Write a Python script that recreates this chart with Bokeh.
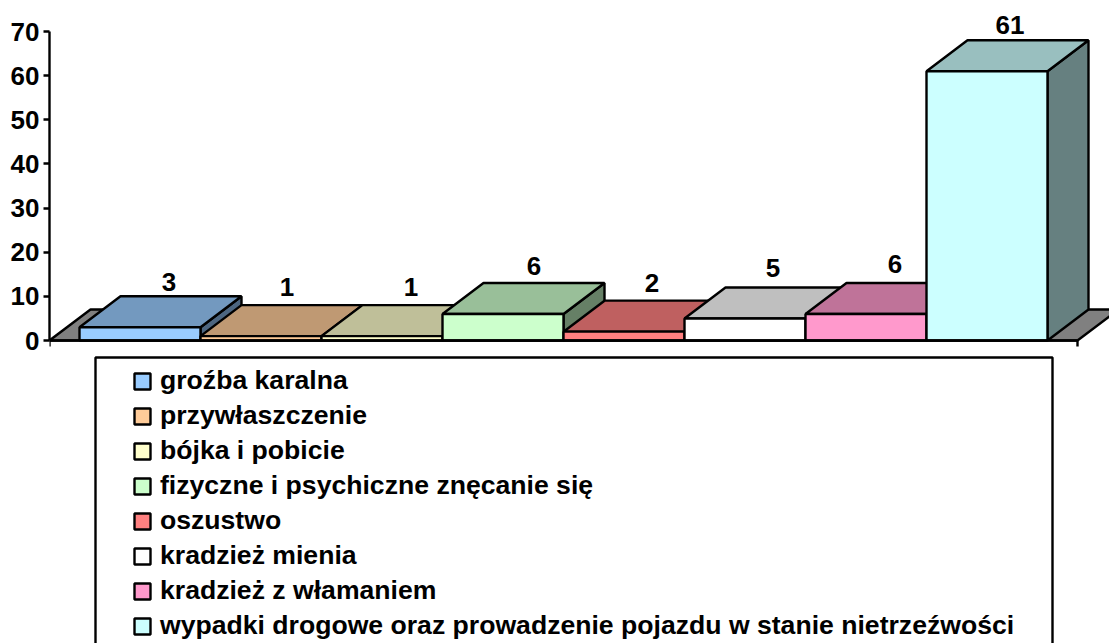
from bokeh.embed import file_html
from bokeh.resources import INLINE
from bokeh.plotting import figure
from bokeh.models import (Range1d, LinearAxis, FixedTicker, Legend, LegendItem, BoxAnnotation,
                          ColumnDataSource)
from bokeh.core.properties import value

categories = ["groźba karalna", "przywłaszczenie", "bójka i pobicie",
              "fizyczne i psychiczne znęcanie się", "oszustwo", "kradzież mienia",
              "kradzież z włamaniem",
              "wypadki drogowe oraz prowadzenie pojazdu w stanie nietrzeźwości"]
counts = [3, 1, 1, 6, 2, 5, 6, 61]
front_colors = ["#99CCFF", "#FFCC99", "#FFFFCC", "#CCFFCC", "#FF8080", "#FFFFFF", "#FF99CC", "#CCFFFF"]
top_colors = ["#7399BF", "#BF9973", "#BFBF99", "#99BF99", "#BF6060", "#BFBFBF", "#BF7399", "#99BFBF"]
side_colors = ["#4D6680", "#80664D", "#808066", "#668066", "#804040", "#808080", "#804D66", "#668080"]
y_ticks = [0, 10, 20, 30, 40, 50, 60, 70]

FONT = "Liberation Sans"
W, H = 1109, 643
LEFT = 49
PX_Y = 309 / 70          # pixels per count
PX_X = 121               # pixels per bar
Y0_PX = 340              # zero line, from the top of the figure
X0 = -30 / PX_X          # axis start, left of the first bar
DX = 41 / PX_X           # depth of the 3D view along x
DY = 31 / PX_Y           # depth of the 3D view along y
AX_END = len(counts) - X0
LABEL_DX = [0, -3, 0, 2, -1, -1, 0, -6]    # pixel nudges of the value labels
LABEL_DY = [-5, -9, -9, -8, -9, -10, -10, -6]

p = figure(width=W, height=H, output_backend="svg", toolbar_location=None,
           x_axis_type=None, y_axis_type=None,
           x_range=Range1d(X0, X0 + (W - LEFT) / PX_X),
           y_range=Range1d((Y0_PX - H) / PX_Y, Y0_PX / PX_Y),
           min_border_left=LEFT, min_border_right=0, min_border_top=0, min_border_bottom=0)
p.grid.visible = False
p.outline_line_color = None

LW = 2.4
# floor
p.patch([X0, X0 + DX, AX_END + DX, AX_END], [0, DY, DY, 0],
        fill_color="#808080", line_color="black", line_width=LW)

front_renderers = []
for i, v in enumerate(counts):
    p.patch([i + 1, i + 1 + DX, i + 1 + DX, i + 1], [0, DY, v + DY, v],
            fill_color=side_colors[i], line_color="black", line_width=LW)
    p.patch([i, i + DX, i + 1 + DX, i + 1], [v, v + DY, v + DY, v],
            fill_color=top_colors[i], line_color="black", line_width=LW)
    r = p.quad(left=[i], right=[i + 1], bottom=[0], top=[v],
               fill_color=front_colors[i], line_color="black", line_width=LW)
    front_renderers.append(r)

# value labels
src = ColumnDataSource(dict(x=[i + 0.5 + 29 / PX_X for i in range(len(counts))],
                            y=[v + DY for v in counts],
                            t=[str(v) for v in counts],
                            dx=LABEL_DX, dy=LABEL_DY))
p.text("x", "y", text="t", source=src, x_offset="dx", y_offset="dy",
       text_align="center", text_baseline="bottom",
       text_font=value(FONT), text_font_style="bold", text_font_size="26px", text_color="black")

# axes
yax = LinearAxis(ticker=FixedTicker(ticks=y_ticks), bounds=(0, 70))
yax.axis_line_width = LW
yax.major_tick_line_width = LW
yax.major_tick_out = 6
yax.major_tick_in = 0
yax.minor_tick_line_color = None
yax.major_label_text_font = FONT
yax.major_label_text_font_style = "bold"
yax.major_label_text_font_size = "26px"
yax.major_label_text_color = "black"
yax.major_label_standoff = 4
p.add_layout(yax, "left")

xax = LinearAxis(ticker=FixedTicker(ticks=[X0, AX_END]), bounds=(X0, AX_END), fixed_location=0)
xax.axis_line_width = LW
xax.major_tick_line_width = LW
xax.major_tick_out = 6
xax.major_tick_in = 0
xax.minor_tick_line_color = None
xax.major_label_text_font_size = "0px"
xax.major_label_text_color = None
p.add_layout(xax, "below")

# legend frame and legend
p.add_layout(BoxAnnotation(left=95 - LEFT, right=1052 - LEFT, top=H - 357, bottom=-20,
                           left_units="screen", right_units="screen",
                           top_units="screen", bottom_units="screen",
                           fill_color="white", fill_alpha=1.0,
                           line_color="black", line_width=LW, line_alpha=1.0,
                           level="underlay"))
legend = Legend(items=[LegendItem(label=value(c), renderers=[r])
                       for c, r in zip(categories, front_renderers)],
                location=(83, 2), orientation="vertical",
                border_line_color=None, background_fill_alpha=0, padding=0, margin=0,
                spacing=4, glyph_width=20, glyph_height=20, label_standoff=8,
                label_text_font=FONT, label_text_font_style="bold", label_text_font_size="26.6px",
                label_text_color="black", label_height=27)
p.add_layout(legend, "center")

open("out.html", "w").write(file_html(p, INLINE))
